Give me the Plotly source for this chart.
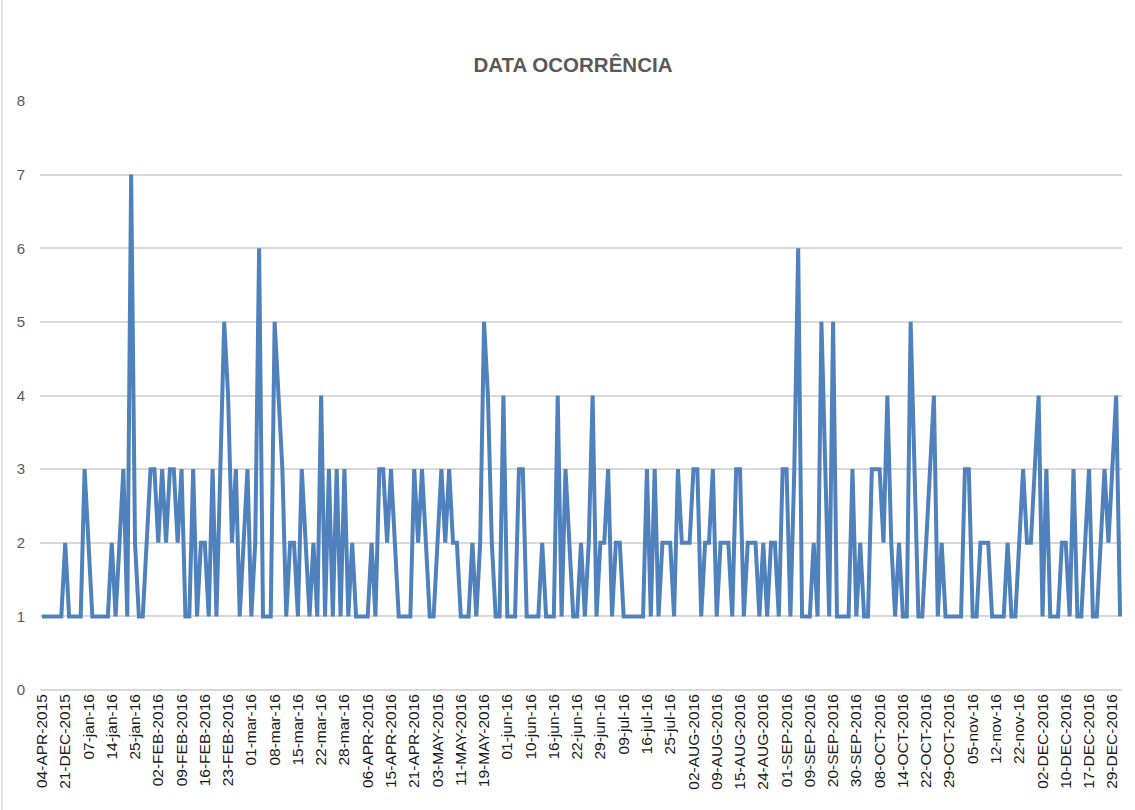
import plotly.graph_objects as go

# Occurrence counts per date (one value per category)
values = [
    1, 1, 1, 1, 1, 1, 2, 1, 1, 1, 1, 3, 2, 1, 1, 1, 1, 1, 2, 1,
    2, 3, 1, 7, 2, 1, 1, 2, 3, 3, 2, 3, 2, 3, 3, 2, 3, 1, 1, 3,
    1, 2, 2, 1, 3, 1, 3, 5, 4, 2, 3, 1, 2, 3, 1, 2, 6, 1, 1, 1,
    5, 4, 3, 1, 2, 2, 1, 3, 2, 1, 2, 1, 4, 1, 3, 1, 3, 1, 3, 1,
    2, 1, 1, 1, 1, 2, 1, 3, 3, 2, 3, 2, 1, 1, 1, 1, 3, 2, 3, 2,
    1, 1, 2, 3, 2, 3, 2, 2, 1, 1, 1, 2, 1, 2, 5, 4, 2, 1, 1, 4,
    1, 1, 1, 3, 3, 1, 1, 1, 1, 2, 1, 1, 1, 4, 1, 3, 2, 1, 1, 2,
    1, 2, 4, 1, 2, 2, 3, 1, 2, 2, 1, 1, 1, 1, 1, 1, 3, 1, 3, 1,
    2, 2, 2, 1, 3, 2, 2, 2, 3, 3, 1, 2, 2, 3, 1, 2, 2, 2, 1, 3,
    3, 1, 2, 2, 2, 1, 2, 1, 2, 2, 1, 3, 3, 1, 3, 6, 1, 1, 1, 2,
    1, 5, 3, 1, 5, 1, 1, 1, 1, 3, 1, 2, 1, 1, 3, 3, 3, 2, 4, 2,
    1, 2, 1, 1, 5, 3, 1, 1, 2, 3, 4, 1, 2, 1, 1, 1, 1, 1, 3, 3,
    1, 1, 2, 2, 2, 1, 1, 1, 1, 2, 1, 1, 2, 3, 2, 2, 3, 4, 1, 3,
    1, 1, 1, 2, 2, 1, 3, 1, 1, 2, 3, 1, 1, 2, 3, 2, 3, 4, 1,
]

# Visible date labels (one every 6 categories)
tick_labels = [
    "04-APR-2015", "21-DEC-2015", "07-jan-16", "14-jan-16", "25-jan-16",
    "02-FEB-2016", "09-FEB-2016", "16-FEB-2016", "23-FEB-2016", "01-mar-16",
    "08-mar-16", "15-mar-16", "22-mar-16", "28-mar-16", "06-APR-2016",
    "15-APR-2016", "21-APR-2016", "03-MAY-2016", "11-MAY-2016", "19-MAY-2016",
    "01-jun-16", "10-jun-16", "16-jun-16", "22-jun-16", "29-jun-16",
    "09-jul-16", "16-jul-16", "25-jul-16", "02-AUG-2016", "09-AUG-2016",
    "15-AUG-2016", "24-AUG-2016", "01-SEP-2016", "09-SEP-2016", "20-SEP-2016",
    "30-SEP-2016", "08-OCT-2016", "14-OCT-2016", "22-OCT-2016", "29-OCT-2016",
    "05-nov-16", "12-nov-16", "22-nov-16", "02-DEC-2016", "10-DEC-2016",
    "17-DEC-2016", "29-DEC-2016",
]
label_step = 6

x_idx = list(range(len(values)))
tick_vals = [i * label_step for i in range(len(tick_labels))]

fig = go.Figure()
fig.add_trace(go.Scatter(
    x=x_idx, y=values, mode="lines",
    line=dict(color="#4f81bd", width=4),
    hoverinfo="y",
))

fig.update_layout(
    width=1135, height=810,
    paper_bgcolor="white", plot_bgcolor="white",
    margin=dict(l=40, r=13, t=101, b=120),
    showlegend=False,
    title=dict(
        text="<b>DATA OCORRÊNCIA</b>",
        x=573 / 1135, xanchor="center", y=1 - 65 / 810, yanchor="middle",
        font=dict(family="Liberation Sans, Arial, sans-serif", size=20.5, color="#595959"),
    ),
    font=dict(family="Liberation Sans, Arial, sans-serif"),
)

fig.update_xaxes(
    range=[-0.5, len(values) - 0.5],
    tickmode="array", tickvals=tick_vals, ticktext=tick_labels,
    tickangle=-90,
    tickfont=dict(size=15.5, color="#1a1a1a"),
    showgrid=False, zeroline=False,
    showline=False,
    ticks="",
    automargin=False,
)
fig.update_yaxes(
    range=[0, 8], dtick=1,
    tickfont=dict(size=15, color="#595959"),
    showgrid=True, gridcolor="#d9d9d9", gridwidth=1.5,
    zeroline=True, zerolinecolor="#d9d9d9", zerolinewidth=1.5,
    showline=False, ticks="",
    ticklabelstandoff=14,
    automargin=False,
)

# chart-area border (left edge visible in the reference)
fig.add_shape(type="line", xref="paper", yref="paper",
              x0=-38 / 1082, x1=-38 / 1082, y0=-120 / 589, y1=101 / 589 + 1,
              line=dict(color="#d9d9d9", width=1.5))

fig.write_html("out.html", config={"displayModeBar": False},
               post_script="document.body.style.margin='0';")
